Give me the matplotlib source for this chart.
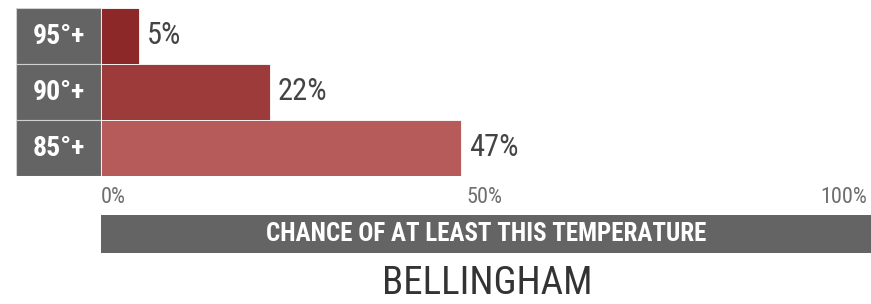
import matplotlib.pyplot as plt

# data
categories = ["95°+", "90°+", "85°+"]
chances = [5, 22, 47]
bar_colors = ["#8c2828", "#9d3b3b", "#b75a5a"]
tick_values = [0, 50, 100]
tick_labels = ["0%", "50%", "100%"]
banner_text = "CHANCE OF AT LEAST THIS TEMPERATURE"
city = "BELLINGHAM"

plt.rcParams['font.family'] = ['Roboto Condensed', 'DejaVu Sans']

W, H = 871, 304
fig = plt.figure(figsize=(W / 100, H / 100), dpi=100)

# main axes: from the label boxes (x=16) to the right edge, rows y=8..176
x0, x_zero, x_full = 16, 101, 867
lab_w = (x_zero - x0) / (x_full - x_zero) * 100
ax = fig.add_axes([x0 / W, 1 - 176 / H, (W - x0) / W, 168 / H])
ax.set_xlim(-lab_w, (W - x_zero) / (x_full - x_zero) * 100)
ax.set_ylim(len(categories) - 0.5, -0.5)

ys = list(range(len(categories)))
ax.barh(ys, [lab_w] * len(ys), left=-lab_w, height=1.0, color="#646464",
        edgecolor="#d0d0d0", linewidth=0.8)
ax.barh(ys, chances, height=1.0, color=bar_colors, edgecolor="white", linewidth=0.6)

for y, cat, val in zip(ys, categories, chances):
    ax.text(-lab_w / 2, y, cat, color="white", ha="center", va="center",
            fontsize=20, fontweight="bold")
    ax.text(val + 1.0, y, f"{val}%", color="#444444",
            ha="left", va="center", fontsize=22)

for s in ax.spines.values():
    s.set_visible(False)
ax.set_yticks([])
ax.set_xticks(tick_values)
ax.set_xticklabels(tick_labels, color="#6e6e6e", fontsize=16)
ax.tick_params(axis="x", length=0, pad=8)
for lbl, ha in zip(ax.get_xticklabels(), ["left", "center", "right"]):
    lbl.set_ha(ha)

# banner under the axis
bx = fig.add_axes([x_zero / W, 1 - 253 / H, (W - x_zero) / W, 38 / H])
bx.set_facecolor("#646464")
bx.set_xticks([])
bx.set_yticks([])
for s in bx.spines.values():
    s.set_visible(False)
bx.text(0.5, 0.5, banner_text, color="white", ha="center", va="center",
        fontsize=18, fontweight="bold", transform=bx.transAxes)

fig.text(487 / W, 1 - 284 / H, city, color="#333333", ha="center", va="center",
         fontsize=28)

fig.savefig("out.png", dpi=100)
